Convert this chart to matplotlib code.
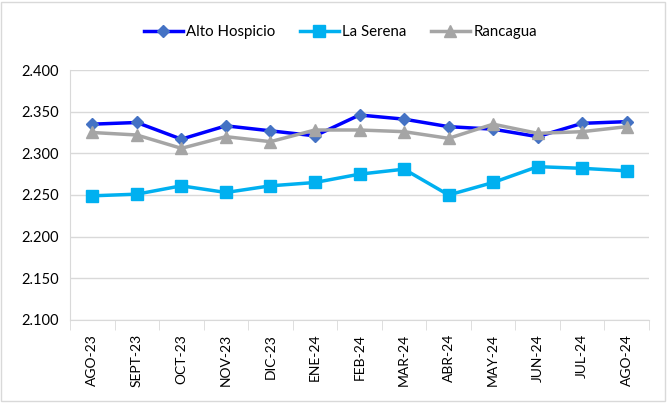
import numpy as np
import matplotlib
matplotlib.use("Agg")
import matplotlib.pyplot as plt
from matplotlib.patches import Rectangle
from matplotlib.ticker import FormatStrFormatter

plt.rcParams.update({"font.family": ["Lato", "DejaVu Sans"], "font.size": 10})

# datos
meses = ["AGO-23", "SEPT-23", "OCT-23", "NOV-23", "DIC-23", "ENE-24", "FEB-24",
         "MAR-24", "ABR-24", "MAY-24", "JUN-24", "JUL-24", "AGO-24"]
alto_hospicio = [2.335, 2.337, 2.317, 2.333, 2.327, 2.321, 2.346,
                 2.341, 2.332, 2.329, 2.320, 2.336, 2.338]
la_serena = [2.249, 2.251, 2.261, 2.253, 2.261, 2.265, 2.275,
             2.281, 2.250, 2.265, 2.284, 2.282, 2.279]
rancagua = [2.325, 2.322, 2.306, 2.320, 2.314, 2.328, 2.328,
            2.326, 2.318, 2.335, 2.324, 2.326, 2.332]

fig = plt.figure(figsize=(6.7, 4.03), dpi=100)
ax = fig.add_axes([0.1045, 0.206, 0.8642, 0.6203])

x = np.arange(len(meses))
ax.plot(x, alto_hospicio, color="#0000FF", lw=2.5, marker="D", ms=6,
        mfc="#4472C4", mec="#4472C4", label="Alto Hospicio", zorder=3)
ax.plot(x, la_serena, color="#00B0F0", lw=2.5, marker="s", ms=8.5,
        mfc="#00B0F0", mec="#00B0F0", label="La Serena", zorder=3)
ax.plot(x, rancagua, color="#A5A5A5", lw=2.5, marker="^", ms=8,
        mfc="#A5A5A5", mec="#A5A5A5", label="Rancagua", zorder=3)

ax.set_xlim(-0.5, len(meses) - 0.5)
ax.set_ylim(2.1, 2.4)
ax.set_yticks(np.arange(2.1, 2.4001, 0.05))
ax.yaxis.set_major_formatter(FormatStrFormatter("%.3f"))
ax.set_xticks(x)
ax.set_xticklabels(meses, rotation=90, fontsize=10)
ax.set_xticks(np.arange(-0.5, len(meses)), minor=True)
ax.tick_params(axis="x", which="major", length=0, pad=10)
ax.tick_params(axis="x", which="minor", length=7, color="#D9D9D9")
ax.tick_params(axis="y", length=0, pad=8, labelsize=10.5)

ax.grid(axis="y", color="#D9D9D9", lw=1)
ax.set_axisbelow(True)
for s in ["top", "right"]:
    ax.spines[s].set_visible(False)
ax.spines["left"].set_color("#D9D9D9")
ax.spines["bottom"].set_color("#D9D9D9")

fig.legend(loc="center", bbox_to_anchor=(0.508, 0.92), ncol=3, frameon=False,
           fontsize=10.8, handlelength=2.6, columnspacing=1.6, handletextpad=0.25)

fig.patches.append(Rectangle((0.002, 0.004), 0.99, 0.99, transform=fig.transFigure,
                             fill=False, edgecolor="#D9D9D9", lw=1))

fig.savefig("out.png", dpi=100)
